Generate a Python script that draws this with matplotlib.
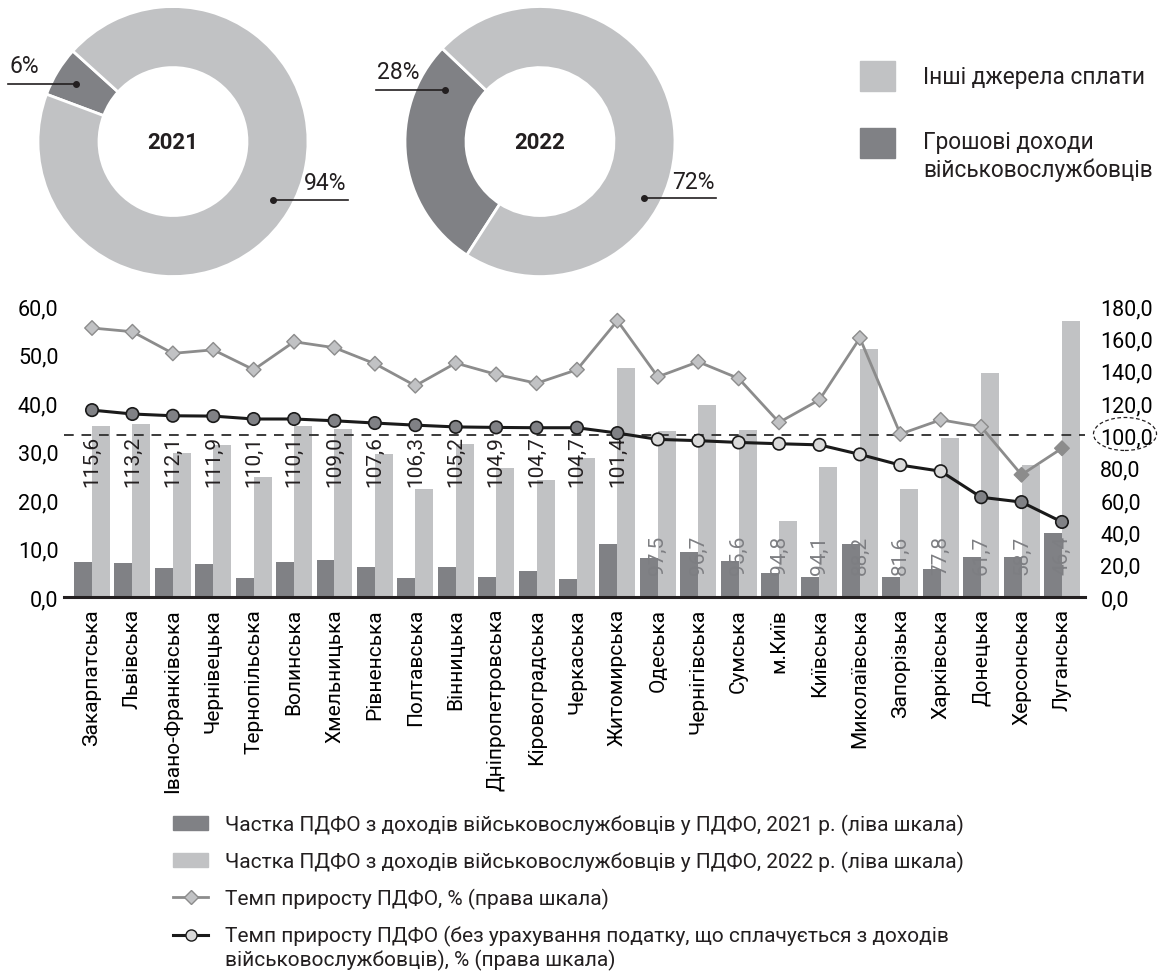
import matplotlib
matplotlib.use('Agg')
import matplotlib.pyplot as plt
from matplotlib.patches import Patch, Rectangle, Ellipse
from matplotlib.lines import Line2D
from matplotlib.ticker import FuncFormatter
from matplotlib.legend_handler import HandlerLine2D
from matplotlib.transforms import Affine2D

plt.rcParams['font.family'] = ['Roboto', 'DejaVu Sans']
plt.rcParams['text.color'] = '#231f20'

# regions, sorted by growth excluding military income
regions = ['Закарпатська', 'Львівська', 'Івано-Франківська', 'Чернівецька',
           'Тернопільська', 'Волинська', 'Хмельницька', 'Рівненська',
           'Полтавська', 'Вінницька', 'Дніпропетровська', 'Кіровоградська',
           'Черкаська', 'Житомирська', 'Одеська', 'Чернігівська', 'Сумська',
           'м.Київ', 'Київська', 'Миколаївська', 'Запорізька', 'Харківська',
           'Донецька', 'Херсонська', 'Луганська']

# share of PIT from military income in PIT, % (left scale)
share_2021 = [7.2, 7.0, 6.0, 6.8, 3.9, 7.2, 7.7, 6.2, 3.9, 6.2, 4.2, 5.4, 3.7,
              10.9, 8.0, 9.3, 7.4, 4.9, 4.2, 10.9, 4.2, 5.8, 8.3, 8.3, 13.2]
share_2022 = [35.3, 35.7, 29.7, 31.3, 24.7, 35.3, 34.6, 29.5, 22.3, 31.5, 26.6,
              24.1, 28.7, 47.2, 34.3, 39.6, 34.4, 15.7, 26.9, 51.1, 22.3, 32.8,
              46.2, 27.3, 56.9]

# PIT growth rate, % (right scale)
growth = [166.4, 164.1, 150.7, 152.9, 140.6, 157.9, 154.2, 144.3, 130.7, 144.7,
          137.7, 132.2, 140.6, 170.9, 136.2, 145.5, 135.2, 108.0, 122.0, 160.2,
          100.8, 109.6, 105.3, 75.6, 92.0]
# PIT growth rate excluding tax on military income, % (right scale)
growth_excl = [115.6, 113.2, 112.1, 111.9, 110.1, 110.1, 109.0, 107.6, 106.3,
               105.2, 104.9, 104.7, 104.7, 101.4, 97.5, 96.7, 95.6, 94.8, 94.1,
               88.2, 81.6, 77.8, 61.7, 58.7, 46.4]

pie_years = ['2021', '2022']
pie_military = [6, 28]
pie_other = [94, 72]
pie_legend = ['Інші джерела сплати', 'Грошові доходи\nвійськовослужбовців']

bar_legend = ['Частка ПДФО з доходів військовослужбовців у ПДФО, 2021 р. (ліва шкала)',
              'Частка ПДФО з доходів військовослужбовців у ПДФО, 2022 р. (ліва шкала)',
              'Темп приросту ПДФО, % (права шкала)',
              'Темп приросту ПДФО (без урахування податку, що сплачується з доходів\n'
              'військовослужбовців), % (права шкала)']

DARK = '#808185'
LIGHT = '#c1c2c4'
LINE_GRAY = '#8c8c8c'

fig = plt.figure(figsize=(11.61, 9.79), dpi=100)


def comma(v, pos=None):
    return f'{v:.1f}'.replace('.', ',')


class FirstLineHandler(HandlerLine2D):
    # put the legend marker next to the first line of a two-line label
    def create_artists(self, legend, orig_handle, xdescent, ydescent, width,
                       height, fontsize, trans):
        trans = Affine2D().translate(0, 0.62 * fontsize) + trans
        return super().create_artists(legend, orig_handle, xdescent, ydescent,
                                      width, height, fontsize, trans)


# ---- donuts ----
donut_pos = [[0.0327, 0.7165, 0.2326, 0.2758], [0.3488, 0.7165, 0.2326, 0.2758]]
start_angles = [137.9, 136.4]
# (dot x, dot y, line end x) in donut data coords
ann_small = [(-0.72, 0.426, -1.222), (-0.704, 0.384, -1.215)]
ann_big = [(0.74, -0.43, 1.296), (0.77, -0.419, 1.304)]

for k in range(2):
    dax = fig.add_axes(donut_pos[k])
    dax.pie([pie_military[k], pie_other[k]], colors=[DARK, LIGHT],
            startangle=start_angles[k], counterclock=True,
            wedgeprops=dict(width=0.452, edgecolor='white', linewidth=2))
    dax.set_xlim(-1, 1)
    dax.set_ylim(-1, 1)
    dax.set_aspect('equal')
    dax.axis('off')
    dax.text(0, 0, pie_years[k], ha='center', va='center', fontsize=16,
             fontweight='bold')

    x0, y0, xe = ann_small[k]
    dax.plot([xe, x0], [y0, y0], color='#231f20', lw=1.2, clip_on=False)
    dax.plot(x0, y0, 'o', color='#231f20', ms=4, clip_on=False)
    dax.text(xe + 0.01, y0 + 0.05, f'{pie_military[k]}%', ha='left', va='bottom',
             fontsize=16.5)

    x0, y0, xe = ann_big[k]
    dax.plot([x0, xe], [y0, y0], color='#231f20', lw=1.2, clip_on=False)
    dax.plot(x0, y0, 'o', color='#231f20', ms=4, clip_on=False)
    dax.text(xe - 0.01, y0 + 0.04, f'{pie_other[k]}%', ha='right', va='bottom',
             fontsize=16.5)

# donut legend (top right)
for sq_y, color in zip([0.906, 0.8376], [LIGHT, DARK]):
    fig.add_artist(Rectangle((0.7407, sq_y), 0.0301, 0.0306, color=color,
                             transform=fig.transFigure))
fig.text(0.795, 0.9213, pie_legend[0], ha='left', va='center', fontsize=16.3)
fig.text(0.795, 0.8662, pie_legend[1], ha='left', va='top', fontsize=16.3,
         linespacing=1.25)

# ---- main chart ----
ax = fig.add_axes([0.05513, 0.3892, 0.8794, 0.2972])
x = list(range(len(regions)))
w = 0.445
ax.bar([i - w / 2 for i in x], share_2021, width=w, color=DARK, zorder=2)
ax.bar([i + w / 2 for i in x], share_2022, width=w, color=LIGHT, zorder=2)
ax.set_xlim(-0.693, 24.57)
ax.set_ylim(0, 60)
ax.set_yticks(range(0, 61, 10))
ax.yaxis.set_major_formatter(FuncFormatter(comma))
ax.set_xticks(x)
ax.set_xticklabels(regions, rotation=90, fontsize=15)
ax.tick_params(axis='x', length=0, pad=8)
ax.tick_params(axis='y', length=0, pad=4, labelsize=15.5)
for s in ['top', 'left', 'right']:
    ax.spines[s].set_visible(False)
ax.spines['bottom'].set_linewidth(2.2)
ax.spines['bottom'].set_color('#231f20')
ax.spines['bottom'].set_zorder(5)

# value labels of growth excl. military income
for i, v in enumerate(growth_excl):
    if v >= 100:
        ax.text(i, 22.9, comma(v), rotation=90, ha='center', va='bottom',
                fontsize=15, color='#231f20', zorder=4)
    else:
        ax.text(i, 4.7, comma(v), rotation=90, ha='center', va='bottom',
                fontsize=15, color='#7d7e82', zorder=4)

ax2 = ax.twinx()
ax2.set_ylim(0, 180)
ax2.set_yticks(range(0, 181, 20))
ax2.yaxis.set_major_formatter(FuncFormatter(comma))
ax2.tick_params(axis='y', length=0, pad=11, labelsize=15.5)
for s in ax2.spines.values():
    s.set_visible(False)

ax2.axhline(100, color='#3a3a3a', lw=1.4, ls=(0, (5, 4)), zorder=1)

ax2.plot(x, growth, color=LINE_GRAY, lw=2, zorder=3)
diamond_faces = [LIGHT if v >= 100 else LINE_GRAY for v in growth]
ax2.scatter(x, growth, marker='D', s=55, c=diamond_faces, edgecolors=LINE_GRAY,
            linewidths=1, zorder=4)

ax2.plot(x, growth_excl, color='#1a1a1a', lw=2.2, zorder=5)
circle_faces = ['#d9d9d9' if 70 <= v < 100 else DARK for v in growth_excl]
ax2.scatter(x, growth_excl, marker='o', s=80, c=circle_faces, edgecolors='#1a1a1a',
            linewidths=1.2, zorder=6)

# dashed ellipse around the 100,0 tick label
fig.add_artist(Ellipse((0.969, 0.5557), 0.0543, 0.0337, fill=False,
                       edgecolor='#231f20', lw=0.9, ls=(0, (3, 2)),
                       transform=fig.transFigure))

# ---- bottom legend ----
handles = [Patch(color=DARK), Patch(color=LIGHT),
           Line2D([], [], color=LINE_GRAY, lw=2, marker='D', ms=7,
                  markerfacecolor=LIGHT, markeredgecolor=LINE_GRAY),
           Line2D([], [], color='#1a1a1a', lw=2.2, marker='o', ms=8,
                  markerfacecolor='#d9d9d9', markeredgecolor='#1a1a1a')]
fig.legend(handles, bar_legend, loc='upper left', bbox_to_anchor=(0.149, 0.1675),
           frameon=False, fontsize=15, handlelength=1.7, handletextpad=0.8,
           labelspacing=0.76, borderpad=0, borderaxespad=0,
           handler_map={handles[3]: FirstLineHandler()})

fig.savefig('out.png', dpi=100)
